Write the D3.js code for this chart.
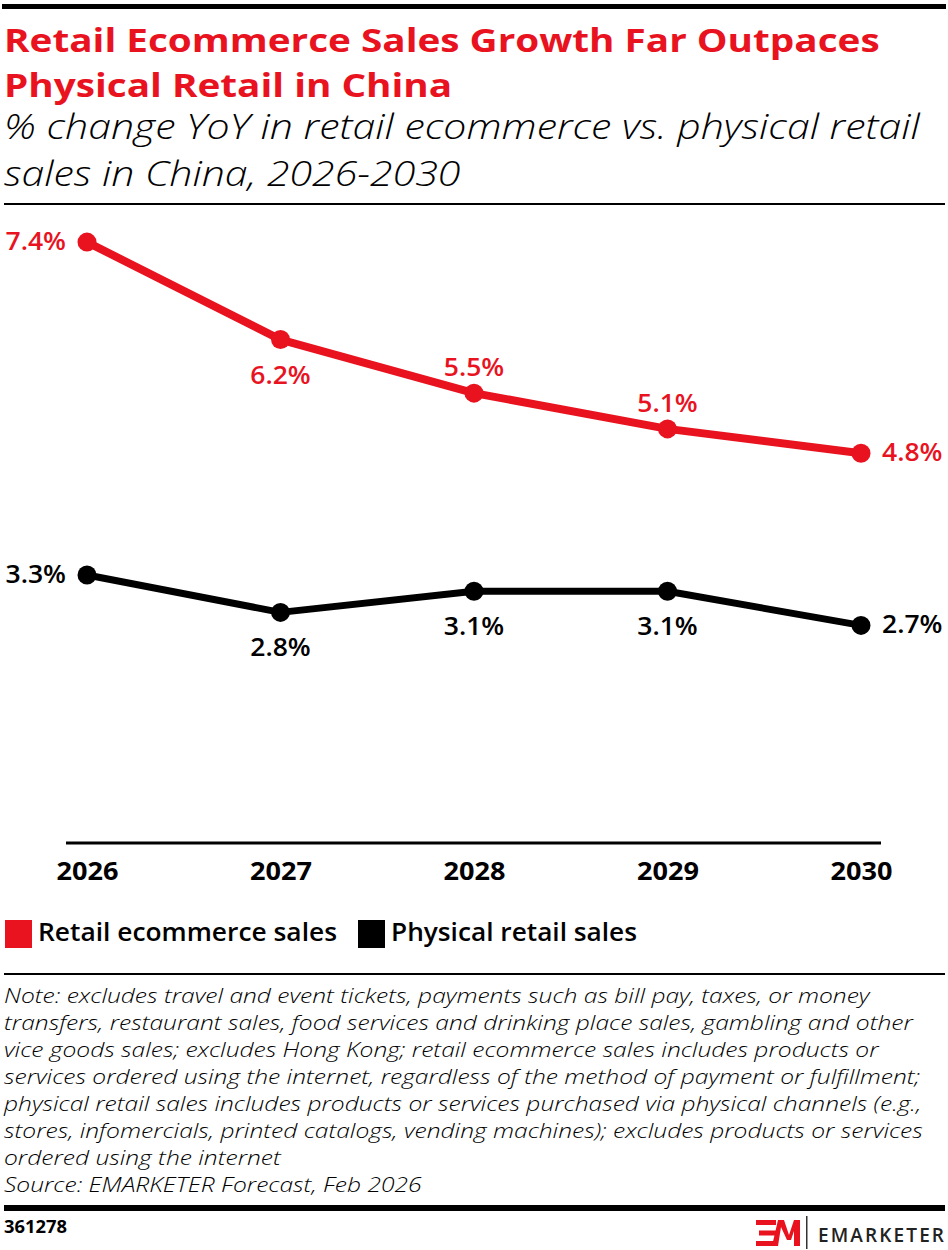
<!DOCTYPE html>
<html>
<head>
<meta charset="utf-8">
<script src="https://cdn.jsdelivr.net/npm/d3@7/dist/d3.min.js"></script>
<style>
  html, body { margin: 0; padding: 0; background: #fff; }
  svg { display: block; }
</style>
</head>
<body>
<svg id="chart" width="948" height="1250"></svg>
<script>
// ---- data (labels shown to one decimal) ----
const years = ["2026", "2027", "2028", "2029", "2030"];
const ecommerce = [7.4, 6.2, 5.54, 5.1, 4.8];
const physical = [3.3, 2.84, 3.1, 3.1, 2.68];
const ecommerceLabelPos = ["left", "below", "above", "above", "right"];
const physicalLabelPos = ["left", "below", "below", "below", "right"];
const seriesNames = ["Retail ecommerce sales", "Physical retail sales"];

const RED = "#e8131f";
const BLACK = "#000";
const FONT = "'Open Sans', Roboto, sans-serif";

const svg = d3.select("#chart");

// multi-line text block, stretched horizontally so its first line reaches a target width
function textBlock(x0, lines, y0, lh, attrs, target) {
  const g = svg.append("g");
  const t = g.append("text");
  Object.entries(attrs).forEach(([k, v]) => t.attr(k, v));
  lines.forEach((s, i) => t.append("tspan").attr("x", 0).attr("y", y0 + i * lh).text(s));
  const w = t.select("tspan").node().getComputedTextLength();
  const s = target ? target / w : 1;
  g.attr("transform", `translate(${x0},0) scale(${s},1)`);
  return g;
}

// top bar
svg.append("rect").attr("x", 2).attr("y", 4).attr("width", 944).attr("height", 5).attr("fill", BLACK);

// title
textBlock(4, ["Retail Ecommerce Sales Growth Far Outpaces", "Physical Retail in China"], 52, 45,
  { "font-family": FONT, "font-weight": 700, "font-size": 33, "fill": RED }, 876);

textBlock(4, ["% change YoY in retail ecommerce vs. physical retail", "sales in China, 2026-2030"], 139, 47,
  { "font-family": FONT, "font-weight": 300, "font-style": "italic", "font-size": 34, "fill": BLACK }, 916);

svg.append("rect").attr("x", 4).attr("y", 203).attr("width", 941).attr("height", 2).attr("fill", BLACK);

// scales
const x = d3.scalePoint().domain(years).range([87, 861]);
const y = d3.scaleLinear().domain([0, 8]).range([843, 193.4]);

// axis
const xAxis = d3.axisBottom(x).tickSize(0).tickPadding(0);
const gx = svg.append("g").attr("transform", `translate(0,${y(0)})`).call(xAxis);
gx.select(".domain").remove();
gx.selectAll("text").attr("font-family", FONT).attr("font-weight", 700)
  .attr("font-size", 25).attr("fill", BLACK).attr("dy", 0).attr("y", 37)
  .attr("textLength", 62).attr("lengthAdjust", "spacingAndGlyphs");
svg.append("line").attr("x1", 66).attr("x2", 881).attr("y1", y(0)).attr("y2", y(0))
  .attr("stroke", BLACK).attr("stroke-width", 3);

// lines
const line = d3.line().x((d, i) => x(years[i])).y(d => y(d));

function drawSeries(values, color, width, positions) {
  svg.append("path").datum(values).attr("d", line).attr("fill", "none")
    .attr("stroke", color).attr("stroke-width", width).attr("stroke-linejoin", "round");
  svg.append("g").selectAll("circle").data(values).join("circle")
    .attr("cx", (d, i) => x(years[i])).attr("cy", d => y(d)).attr("r", 9.5).attr("fill", color);
  svg.append("g").selectAll("text").data(values).join("text")
    .attr("font-family", FONT).attr("font-weight", 600).attr("font-size", 25)
    .attr("fill", color)
    .attr("x", (d, i) => {
      const p = positions[i], cx = x(years[i]);
      if (p === "left") return cx - 21;
      if (p === "right") return cx + 21;
      return cx;
    })
    .attr("y", (d, i) => {
      const p = positions[i], cy = y(d);
      if (p === "above") return cy - 17;
      if (p === "below") return cy + 44;
      return cy + 8;
    })
    .attr("text-anchor", (d, i) => positions[i] === "left" ? "end" : positions[i] === "right" ? "start" : "middle")
    .text(d => d.toFixed(1) + "%")
    .attr("textLength", function () { return this.getComputedTextLength() * 1.06; })
    .attr("lengthAdjust", "spacingAndGlyphs");
}
drawSeries(physical, BLACK, 7, physicalLabelPos);
drawSeries(ecommerce, RED, 8, ecommerceLabelPos);

// legend
const legend = svg.append("g");
const legendItems = [
  { name: seriesNames[0], color: RED, x: 5, w: 299 },
  { name: seriesNames[1], color: BLACK, x: 358, w: 246 }
];
legendItems.forEach(it => {
  legend.append("rect").attr("x", it.x).attr("y", 920).attr("width", 27).attr("height", 28).attr("fill", it.color);
  legend.append("text").attr("x", it.x + 33).attr("y", 941).attr("font-family", FONT)
    .attr("font-weight", 600).attr("font-size", 25).attr("fill", BLACK)
    .attr("textLength", it.w).attr("lengthAdjust", "spacingAndGlyphs").text(it.name);
});

svg.append("rect").attr("x", 4).attr("y", 973).attr("width", 941).attr("height", 2).attr("fill", BLACK);

// notes
const noteLines = [
  "Note: excludes travel and event tickets, payments such as bill pay, taxes, or money",
  "transfers, restaurant sales, food services and drinking place sales, gambling and other",
  "vice goods sales; excludes Hong Kong; retail ecommerce sales includes products or",
  "services ordered using the internet, regardless of the method of payment or fulfillment;",
  "physical retail sales includes products or services purchased via physical channels (e.g.,",
  "stores, infomercials, printed catalogs, vending machines); excludes products or services",
  "ordered using the internet",
  "Source: EMARKETER Forecast, Feb 2026"
];
textBlock(4, noteLines, 1003, 27,
  { "font-family": FONT, "font-weight": 300, "font-style": "italic", "font-size": 20, "fill": BLACK }, 866);

svg.append("rect").attr("x", 4).attr("y", 1205).attr("width", 941).attr("height", 6).attr("fill", BLACK);

svg.append("text").attr("x", 4).attr("y", 1233).attr("font-family", FONT).attr("font-weight", 700)
  .attr("font-size", 17).attr("fill", BLACK).attr("textLength", 63)
  .attr("lengthAdjust", "spacingAndGlyphs").text("361278");

// logo
const logo = svg.append("g").attr("transform", "translate(756,1220)");
logo.append("path").attr("fill", RED)
  .attr("d", "M0,0 H20 V5 H0 Z M3,10.5 H20 V15.5 H3 Z M0,21 H20 V26 H0 Z");
logo.append("path").attr("fill", RED)
  .attr("d", "M16,26 L22,0 H28 L33,15 L38,0 H44 L44,26 H38 L38,11 L35,20 H31 L25,7 L22,26 Z");
svg.append("rect").attr("x", 806).attr("y", 1216).attr("width", 1.5).attr("height", 33).attr("fill", "#333");
svg.append("text").attr("x", 818).attr("y", 1242).attr("font-family", FONT).attr("font-weight", 600)
  .attr("font-size", 19).attr("textLength", 126).attr("lengthAdjust", "spacing")
  .attr("fill", "#222").text("EMARKETER");
</script>
</body>
</html>
